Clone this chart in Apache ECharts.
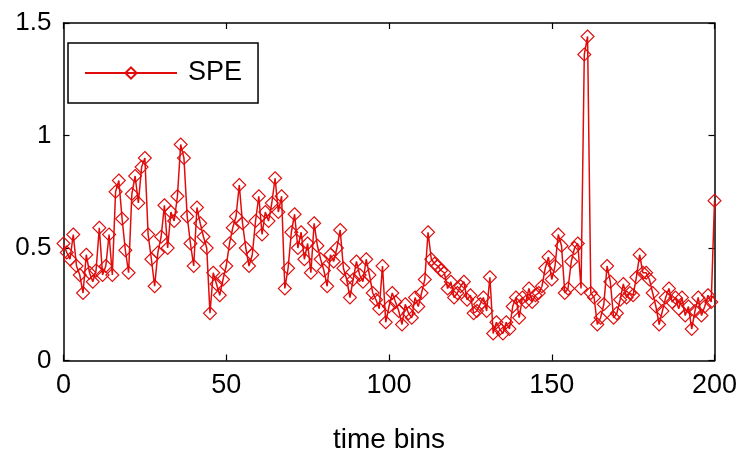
<!DOCTYPE html>
<html>
<head>
<meta charset="utf-8">
<script src="https://cdn.jsdelivr.net/npm/echarts@6/dist/echarts.min.js"></script>
<style>
html,body{margin:0;padding:0;background:#fff;}
#chart{width:741px;height:451px;}
</style>
</head>
<body>
<div id="chart"></div>
<script>
// SPE value per time bin (bins 0..200)
const speValues = [
  0.52, 0.48, 0.45, 0.56, 0.42, 0.38, 0.30, 0.47, 0.39, 0.35,
  0.40, 0.59, 0.38, 0.42, 0.56, 0.38, 0.75, 0.80, 0.63, 0.49,
  0.39, 0.74, 0.82, 0.70, 0.86, 0.90, 0.56, 0.45, 0.33, 0.48,
  0.55, 0.69, 0.50, 0.66, 0.62, 0.73, 0.96, 0.90, 0.64, 0.52,
  0.42, 0.68, 0.61, 0.55, 0.50, 0.21, 0.39, 0.34, 0.29, 0.36,
  0.42, 0.52, 0.59, 0.64, 0.78, 0.61, 0.50, 0.42, 0.47, 0.62,
  0.73, 0.56, 0.66, 0.62, 0.70, 0.81, 0.66, 0.73, 0.32, 0.41,
  0.57, 0.65, 0.50, 0.57, 0.45, 0.52, 0.39, 0.61, 0.51, 0.45,
  0.40, 0.33, 0.47, 0.44, 0.50, 0.58, 0.41, 0.36, 0.28, 0.36,
  0.44, 0.38, 0.35, 0.45, 0.38, 0.30, 0.27, 0.23, 0.42, 0.17,
  0.24, 0.30, 0.26, 0.22, 0.16, 0.25, 0.21, 0.19, 0.28, 0.24,
  0.30, 0.36, 0.57, 0.45, 0.43, 0.42, 0.40, 0.39, 0.32, 0.35,
  0.28, 0.30, 0.33, 0.35, 0.27, 0.29, 0.21, 0.22, 0.25, 0.28,
  0.22, 0.37, 0.12, 0.17, 0.14, 0.12, 0.17, 0.14, 0.24, 0.28,
  0.19, 0.28, 0.26, 0.32, 0.26, 0.29, 0.30, 0.33, 0.41, 0.46,
  0.36, 0.42, 0.56, 0.51, 0.30, 0.32, 0.44, 0.50, 0.52, 0.32,
  1.36, 1.44, 0.30, 0.28, 0.16, 0.19, 0.25, 0.42, 0.35, 0.19,
  0.21, 0.27, 0.34, 0.28, 0.30, 0.29, 0.37, 0.47, 0.39, 0.39,
  0.36, 0.30, 0.24, 0.16, 0.22, 0.28, 0.32, 0.26, 0.28, 0.23,
  0.28, 0.20, 0.24, 0.14, 0.22, 0.28, 0.20, 0.24, 0.29, 0.26,
  0.71
];
const seriesName = 'SPE';
const xAxisName = 'time bins';
const xTicks = [0, 50, 100, 150, 200];
const yTicks = [0, 0.5, 1, 1.5];

const FONT = 'Liberation Sans, Arial, sans-serif';
const RED = '#e00c0c';

const chart = echarts.init(document.getElementById('chart'), null, {renderer: 'canvas'});

const axisCommon = {
  type: 'value',
  axisLine: {show: true, onZero: false, lineStyle: {color: '#000', width: 1.5}},
  axisTick: {show: true, inside: true, length: 6, lineStyle: {color: '#000', width: 1.2}},
  splitLine: {show: false}
};

const option = {
  backgroundColor: '#fff',
  animation: false,
  grid: {left: 63.5, right: 26.5, top: 23, bottom: 90.5, containLabel: false, outerBoundsMode: 'none'},
  legend: {
    show: true,
    left: 68,
    top: 43,
    orient: 'horizontal',
    padding: [15, 16, 15, 16],
    itemWidth: 92,
    itemHeight: 14,
    borderColor: '#000',
    borderWidth: 1.5,
    backgroundColor: '#fff',
    textStyle: {fontFamily: FONT, fontSize: 27, color: '#000', padding: [0, 0, 0, 6], lineHeight: 30},
    data: [seriesName]
  },
  xAxis: [
    Object.assign({}, axisCommon, {
      position: 'bottom',
      min: xTicks[0], max: xTicks[xTicks.length - 1], interval: 50,
      name: xAxisName,
      nameLocation: 'middle',
      nameGap: 66,
      nameTextStyle: {fontFamily: FONT, fontSize: 28, color: '#000'},
      axisLabel: {show: true, margin: 12, fontFamily: FONT, fontSize: 27, color: '#000'}
    }),
    Object.assign({}, axisCommon, {
      position: 'top',
      min: xTicks[0], max: xTicks[xTicks.length - 1], interval: 50,
      axisLabel: {show: false}
    })
  ],
  yAxis: [
    Object.assign({}, axisCommon, {
      position: 'left',
      min: yTicks[0], max: yTicks[yTicks.length - 1], interval: 0.5,
      axisLabel: {show: true, margin: 12, fontFamily: FONT, fontSize: 26, color: '#000',
        formatter: v => String(v)}
    }),
    Object.assign({}, axisCommon, {
      position: 'right',
      min: yTicks[0], max: yTicks[yTicks.length - 1], interval: 0.5,
      axisLabel: {show: false}
    })
  ],
  series: [{
    name: seriesName,
    type: 'line',
    xAxisIndex: 0,
    yAxisIndex: 0,
    data: speValues.map((v, i) => [i, v]),
    symbol: 'diamond',
    symbolSize: 13,
    showAllSymbol: true,
    lineStyle: {color: RED, width: 1.5},
    itemStyle: {color: 'rgba(255,255,255,0)', borderColor: RED, borderWidth: 1.1},
    emphasis: {disabled: true}
  }]
};
chart.setOption(option);
</script>
</body>
</html>
